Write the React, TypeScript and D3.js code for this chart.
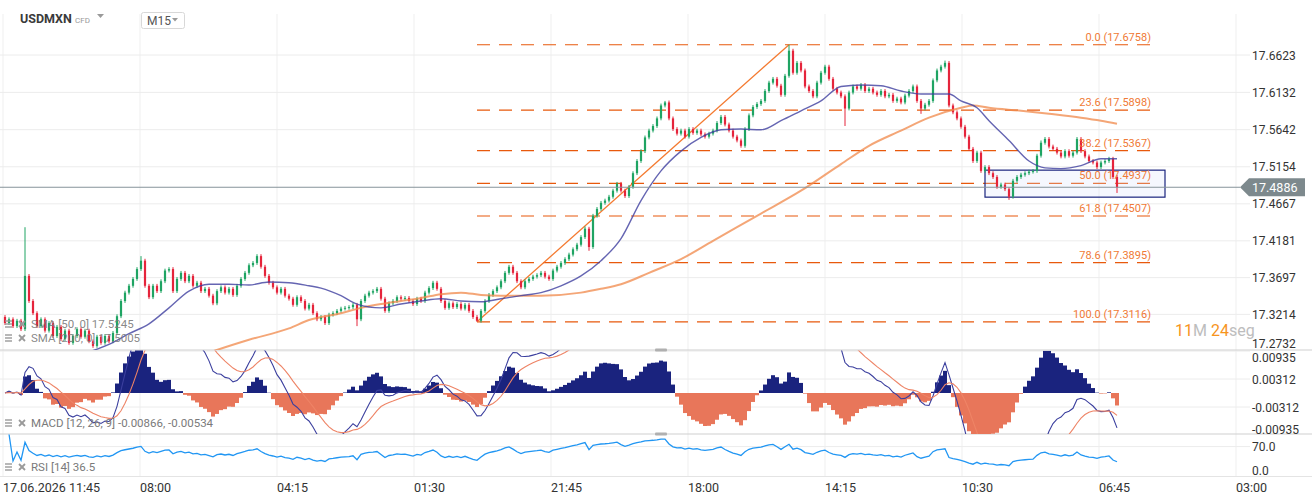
import React from 'react'
import * as d3 from 'd3'

// M15 closes (left to right)
const closes = [
  17.310, 17.315, 17.306, 17.313, 17.302, 17.372, 17.339, 17.323, 17.306, 17.315,
  17.300, 17.310, 17.293, 17.305, 17.289, 17.300, 17.284, 17.293, 17.302, 17.292,
  17.300, 17.286, 17.280, 17.292, 17.284, 17.293, 17.286, 17.297, 17.319, 17.339,
  17.350, 17.359, 17.368, 17.381, 17.392, 17.359, 17.344, 17.359, 17.352, 17.365,
  17.379, 17.381, 17.352, 17.368, 17.376, 17.365, 17.372, 17.359, 17.363, 17.352,
  17.355, 17.346, 17.336, 17.352, 17.357, 17.350, 17.355, 17.347, 17.359, 17.368,
  17.376, 17.386, 17.389, 17.398, 17.384, 17.372, 17.363, 17.357, 17.350, 17.355,
  17.346, 17.342, 17.334, 17.344, 17.339, 17.329, 17.334, 17.323, 17.315, 17.318,
  17.310, 17.321, 17.323, 17.326, 17.329, 17.330, 17.331, 17.334, 17.315, 17.339,
  17.346, 17.350, 17.352, 17.355, 17.342, 17.326, 17.336, 17.339, 17.344, 17.342,
  17.343, 17.339, 17.335, 17.342, 17.339, 17.350, 17.356, 17.363, 17.355, 17.339,
  17.330, 17.336, 17.331, 17.335, 17.329, 17.334, 17.326, 17.318, 17.313, 17.326,
  17.339, 17.347, 17.352, 17.357, 17.365, 17.376, 17.384, 17.376, 17.365, 17.357,
  17.365, 17.368, 17.371, 17.373, 17.376, 17.371, 17.368, 17.379, 17.384, 17.389,
  17.394, 17.400, 17.407, 17.413, 17.423, 17.434, 17.410, 17.451, 17.460, 17.468,
  17.471, 17.476, 17.484, 17.493, 17.484, 17.477, 17.489, 17.507, 17.523, 17.536,
  17.554, 17.563, 17.569, 17.579, 17.596, 17.600, 17.579, 17.565, 17.559, 17.563,
  17.555, 17.565, 17.560, 17.563, 17.558, 17.555, 17.559, 17.563, 17.573, 17.581,
  17.571, 17.563, 17.555, 17.550, 17.543, 17.565, 17.583, 17.594, 17.598, 17.602,
  17.615, 17.626, 17.631, 17.622, 17.610, 17.635, 17.668, 17.639, 17.652, 17.642,
  17.621, 17.615, 17.608, 17.626, 17.639, 17.647, 17.631, 17.618, 17.613, 17.608,
  17.592, 17.613, 17.621, 17.618, 17.623, 17.615, 17.618, 17.613, 17.610, 17.615,
  17.608, 17.610, 17.602, 17.605, 17.600, 17.609, 17.615, 17.621, 17.602, 17.592,
  17.597, 17.602, 17.629, 17.642, 17.647, 17.652, 17.596, 17.587, 17.579, 17.568,
  17.555, 17.539, 17.523, 17.534, 17.510, 17.515, 17.507, 17.502, 17.489, 17.492,
  17.486, 17.476, 17.497, 17.502, 17.505, 17.507, 17.509, 17.510, 17.530, 17.547,
  17.552, 17.542, 17.539, 17.534, 17.529, 17.536, 17.530, 17.534, 17.552, 17.536,
  17.529, 17.523, 17.521, 17.515, 17.521, 17.523, 17.526, 17.502, 17.4886,
]
const firstOpen = 17.318

// long wicks [bar, price]
const wickHighs: [number, number][] = [
  [5, 17.436], [34, 17.398], [145, 17.437], [165, 17.602], [196, 17.6758], [235, 17.655], [259, 17.55],
]
const wickLows: [number, number][] = [
  [88, 17.306], [118, 17.3116], [146, 17.405], [210, 17.569], [229, 17.585], [251, 17.472], [278, 17.481],
]

// moving averages [bar, value]
const sma50: [number, number][] = [
  [21, 17.272], [26, 17.282], [31, 17.296], [36, 17.309], [41, 17.33], [46, 17.352], [51, 17.361],
  [56, 17.361], [61, 17.36], [66, 17.364], [71, 17.363], [76, 17.359], [79, 17.356], [84, 17.346],
  [88, 17.335], [94, 17.33], [99, 17.335], [104, 17.339], [109, 17.342], [114, 17.339], [119, 17.338],
  [124, 17.342], [129, 17.346], [134, 17.35], [139, 17.359], [144, 17.372], [149, 17.392], [154, 17.421],
  [159, 17.471], [164, 17.51], [169, 17.536], [174, 17.554], [179, 17.564], [184, 17.565], [189, 17.564],
  [194, 17.576], [199, 17.589], [204, 17.602], [209, 17.621], [214, 17.623], [219, 17.622], [224, 17.615],
  [229, 17.611], [236, 17.611], [239, 17.602], [243, 17.593], [246, 17.576], [251, 17.55], [256, 17.523],
  [260, 17.514], [264, 17.513], [269, 17.517], [274, 17.526], [278, 17.526],
]
const sma200: [number, number][] = [
  [52, 17.273], [61, 17.288], [71, 17.303], [76, 17.314], [84, 17.323], [89, 17.33], [94, 17.335],
  [99, 17.339], [104, 17.343], [109, 17.348], [114, 17.35], [119, 17.347], [124, 17.346], [134, 17.346],
  [144, 17.35], [149, 17.355], [154, 17.361], [161, 17.376], [169, 17.394], [177, 17.418], [189, 17.454],
  [199, 17.484], [209, 17.519], [216, 17.543], [224, 17.563], [231, 17.58], [239, 17.593], [242, 17.596],
  [246, 17.593], [254, 17.589], [261, 17.585], [269, 17.58], [274, 17.576], [278, 17.572],
]

const priceTicks = [17.6623, 17.6132, 17.5642, 17.5154, 17.4667, 17.4181, 17.3697, 17.3214, 17.2732]
const macdTicks = [0.00935, 0.00312, -0.00312, -0.00935]
const rsiTicks = [70, 0]
const timeLabels = ['17.06.2026 11:45', '08:00', '04:15', '01:30', '21:45', '18:00', '14:15', '10:30', '06:45', '03:00']

const fibLevels: [number, number][] = [
  [0, 17.6758], [23.6, 17.5898], [38.2, 17.5367], [50, 17.4937], [61.8, 17.4507], [78.6, 17.3895], [100, 17.3116],
]
const fibBars = [118, 287]
const trendLine: [number, number][] = [[118, 17.3116], [196, 17.6758]]
const boxBars = [245, 290]
const boxPrices = [17.511, 17.4755]
const lastPrice = 17.4886

const W = 1312
const H = 501
const FONT = 'Roboto, sans-serif'
const GREEN = '#1fa463'
const RED = '#e5243b'

function ema(arr: number[], n: number) {
  const k = 2 / (n + 1)
  const out: number[] = []
  arr.forEach((v, i) => out.push(i === 0 ? v : v * k + out[i - 1] * (1 - k)))
  return out
}

const N = closes.length
const opens = closes.map((c, i) => (i === 0 ? firstOpen : closes[i - 1]))

// indicators from the closes
const e12 = ema(closes, 12)
const e26 = ema(closes, 26)
const macd = closes.map((_, i) => e12[i] - e26[i])
const signal = ema(macd, 9)
const hist = macd.map((m, i) => m - signal[i])

const rsi: [number, number][] = []
{
  let ag = 0
  let al = 0
  for (let i = 1; i < N; i++) {
    const ch = closes[i] - closes[i - 1]
    const g = Math.max(ch, 0)
    const l = Math.max(-ch, 0)
    if (i <= 14) {
      ag = (ag * (i - 1) + g) / i
      al = (al * (i - 1) + l) / i
    } else {
      ag = (ag * 13 + g) / 14
      al = (al * 13 + l) / 14
    }
    rsi.push([i, al === 0 ? 100 : 100 - 100 / (1 + ag / al)])
  }
}

const LegendIcon = ({ y }: { y: number }) => (
  <g stroke="#9a9a9a" strokeWidth={1.4}>
    <line x1={5} x2={12} y1={y - 3} y2={y - 3} />
    <line x1={5} x2={12} y1={y} y2={y} />
    <line x1={5} x2={12} y1={y + 3} y2={y + 3} />
    <line x1={19} x2={25} y1={y - 3} y2={y + 3} strokeWidth={1.8} />
    <line x1={25} x2={19} y1={y - 3} y2={y + 3} strokeWidth={1.8} />
  </g>
)

const App: React.FC = () => {
  const xs = d3.scaleLinear().domain([0, N - 1]).range([5, 1117])
  const yP = d3.scaleLinear().domain([17.2746, 17.6952]).range([350, 30])
  const yM = d3.scaleLinear().domain([-0.00936, 0.00936]).range([435, 351])
  const yR = d3.scaleLinear().domain([0, 100]).range([476, 434])
  const tickStep = 34.25
  const gridX = timeLabels.map((_, k) => xs(-0.5 + k * tickStep))

  const smaLine = d3.line<[number, number]>().x((d) => xs(d[0])).y((d) => yP(d[1])).curve(d3.curveMonotoneX)
  const macdLine = d3.line<number>().x((_, i) => xs(i)).y((d) => yM(d))
  const rsiLine = d3.line<[number, number]>().x((d) => xs(d[0])).y((d) => yR(d[1]))

  const hiMap = new Map(wickHighs)
  const loMap = new Map(wickLows)
  const clamp = (v: number, a: number, b: number) => Math.max(a, Math.min(b, v))
  const yLast = yP(lastPrice)

  return (
    <svg width={W} height={H} style={{ position: 'absolute', left: 0, top: 0, background: '#fff' }} fontFamily={FONT}>
      <defs>
        <clipPath id="cMain"><rect x={0} y={30} width={1240} height={320} /></clipPath>
        <clipPath id="cMacd"><rect x={0} y={350.5} width={1240} height={83.5} /></clipPath>
        <clipPath id="cRsi"><rect x={0} y={434.5} width={1240} height={41} /></clipPath>
      </defs>

      {/* grid */}
      {gridX.map((x, k) => (
        <line key={'gx' + k} x1={x} x2={x} y1={14} y2={476} stroke="#efefef" />
      ))}
      {priceTicks.map((t) => (
        <line key={'gp' + t} x1={0} x2={1250} y1={yP(t)} y2={yP(t)} stroke="#ececec" />
      ))}
      {[0.00312, -0.00312].map((t) => (
        <line key={'gm' + t} x1={0} x2={1250} y1={yM(t)} y2={yM(t)} stroke="#ececec" />
      ))}
      <line x1={0} x2={1250} y1={yR(70)} y2={yR(70)} stroke="#ececec" />

      {/* panel borders */}
      <line x1={0} x2={W} y1={350} y2={350} stroke="#cfcfcf" />
      <line x1={0} x2={W} y1={434} y2={434} stroke="#cfcfcf" />
      <line x1={0} x2={W} y1={476.5} y2={476.5} stroke="#e4e4e4" />

      {/* header */}
      <text x={20} y={23} fontSize={12.5} fontWeight={700} fill="#3a3a3a">USDMXN</text>
      <text x={75} y={23} fontSize={8} fill="#9a9a9a">CFD</text>
      <path d="M97,14 L104,14 L100.5,18 Z" fill="#9a9a9a" />
      <rect x={141.5} y={12.5} width={43} height={16} rx={2} fill="#fff" stroke="#d8d8d8" />
      <text x={147} y={24.5} fontSize={12} fill="#555">M15</text>
      <path d="M172,18 L178,18 L175,21.5 Z" fill="#9a9a9a" />

      {/* main price panel */}
      <g clipPath="url(#cMain)">
        {/* fibonacci retracement */}
        {fibLevels.map(([lv, p]) => (
          <line key={'f' + lv} x1={xs(fibBars[0])} x2={xs(fibBars[1])} y1={yP(p)} y2={yP(p)}
            stroke="#e8590c" strokeWidth={1.2} strokeDasharray="13,9" />
        ))}
        <line x1={xs(trendLine[0][0])} y1={yP(trendLine[0][1])} x2={xs(trendLine[1][0])} y2={yP(trendLine[1][1])}
          stroke="#f47a30" strokeWidth={1.3} />

        {/* box */}
        <rect x={xs(boxBars[0])} y={yP(boxPrices[0])} width={xs(boxBars[1]) - xs(boxBars[0])}
          height={yP(boxPrices[1]) - yP(boxPrices[0])} fill="rgba(215,222,250,0.25)" stroke="#1a237e" strokeWidth={1.2} />

        {/* candles */}
        {closes.map((c, i) => {
          const o = opens[i]
          const up = c >= o
          const hi = hiMap.get(i) ?? Math.max(o, c) + 0.0025
          const lo = loMap.get(i) ?? Math.min(o, c) - 0.0025
          const col = up ? GREEN : RED
          const yt = yP(Math.max(o, c))
          const yb = yP(Math.min(o, c))
          return (
            <g key={'c' + i}>
              <line x1={xs(i)} x2={xs(i)} y1={yP(hi)} y2={yP(lo)} stroke={col} strokeWidth={1} />
              <rect x={xs(i) - 1.1} y={yt} width={2.2} height={Math.max(1, yb - yt)} fill={col} />
            </g>
          )
        })}

        {/* SMA lines */}
        <path d={smaLine(sma200) ?? ''} fill="none" stroke="#f0884a" strokeOpacity={0.75} strokeWidth={2} />
        <path d={smaLine(sma50) ?? ''} fill="none" stroke="#3f3f9f" strokeOpacity={0.8} strokeWidth={1.4} />
      </g>

      {/* fib labels */}
      {fibLevels.map(([lv, p]) => (
        <text key={'fl' + lv} x={xs(fibBars[1]) - 2} y={yP(p) - 4} fontSize={11} fill="#f07a36" textAnchor="end">
          {`${lv.toFixed(1)} (${p.toFixed(4)})`}
        </text>
      ))}

      {/* current price */}
      <line x1={0} x2={1240} y1={yLast} y2={yLast} stroke="#86939a" strokeWidth={1.1} />
      <path d={`M1240,${yLast} L1249,${yLast - 9} H1305 V${yLast + 9} H1249 Z`} fill="#7d898d" />
      <text x={1252} y={yLast + 4.5} fontSize={12.5} fill="#fff">{lastPrice.toFixed(4)}</text>

      {/* price axis */}
      {priceTicks.map((t) => (
        <text key={'pt' + t} x={1252} y={clamp(yP(t), 37, 343) + 4.5} fontSize={12} fill="#333">{t.toFixed(4)}</text>
      ))}

      <text x={1175} y={336} fontSize={16}>
        <tspan fill="#f7941d">11</tspan>
        <tspan fill="#bdbdbd">M </tspan>
        <tspan fill="#f7941d">24</tspan>
        <tspan fill="#bdbdbd">seg</tspan>
      </text>

      {/* legends main */}
      <LegendIcon y={324} />
      <text x={31} y={328} fontSize={11.5} fill="#7a7a7a" fillOpacity={0.9}>SMA [50, 0] 17.5245</text>
      <LegendIcon y={338} />
      <text x={31} y={342} fontSize={11.5} fill="#7a7a7a" fillOpacity={0.9}>SMA [200, 0] 17.5005</text>

      {/* MACD */}
      <g clipPath="url(#cMacd)">
        {hist.map((h, i) => (
          <rect key={'h' + i} x={xs(i) - 2} width={4}
            y={Math.min(yM(h), yM(0))} height={Math.abs(yM(h) - yM(0))}
            fill={h >= 0 ? '#1a237e' : '#e8765a'} />
        ))}
        <path d={macdLine(macd) ?? ''} fill="none" stroke="#3b3f9e" strokeWidth={1.1} />
        <path d={macdLine(signal) ?? ''} fill="none" stroke="#ee8466" strokeWidth={1.1} />
      </g>
      {macdTicks.map((t) => (
        <text key={'mt' + t} x={1252} y={clamp(yM(t), 357, 429) + 4.5} fontSize={12} fill="#333">{t.toFixed(5)}</text>
      ))}
      <LegendIcon y={423} />
      <text x={31} y={427} fontSize={11.5} fill="#7a7a7a">MACD [12, 26, 9] -0.00866, -0.00534</text>
      <rect x={655} y={348.5} width={12} height={3} rx={1} fill="#b0b0b0" />
      <rect x={655} y={432.5} width={12} height={3} rx={1} fill="#b0b0b0" />

      {/* RSI */}
      <g clipPath="url(#cRsi)">
        <path d={rsiLine(rsi) ?? ''} fill="none" stroke="#2196f3" strokeWidth={1.3} />
      </g>
      {rsiTicks.map((t) => (
        <text key={'rt' + t} x={1252} y={clamp(yR(t), 441, 470) + 4.5} fontSize={12} fill="#333">{t.toFixed(1)}</text>
      ))}
      <LegendIcon y={467} />
      <text x={31} y={471} fontSize={11.5} fill="#7a7a7a">RSI [14] 36.5</text>

      {/* time axis */}
      {timeLabels.map((s, k) => (
        <text key={'tl' + k} x={gridX[k]} y={492} fontSize={12.5} fill="#333">{s}</text>
      ))}
    </svg>
  )
}

export default App
